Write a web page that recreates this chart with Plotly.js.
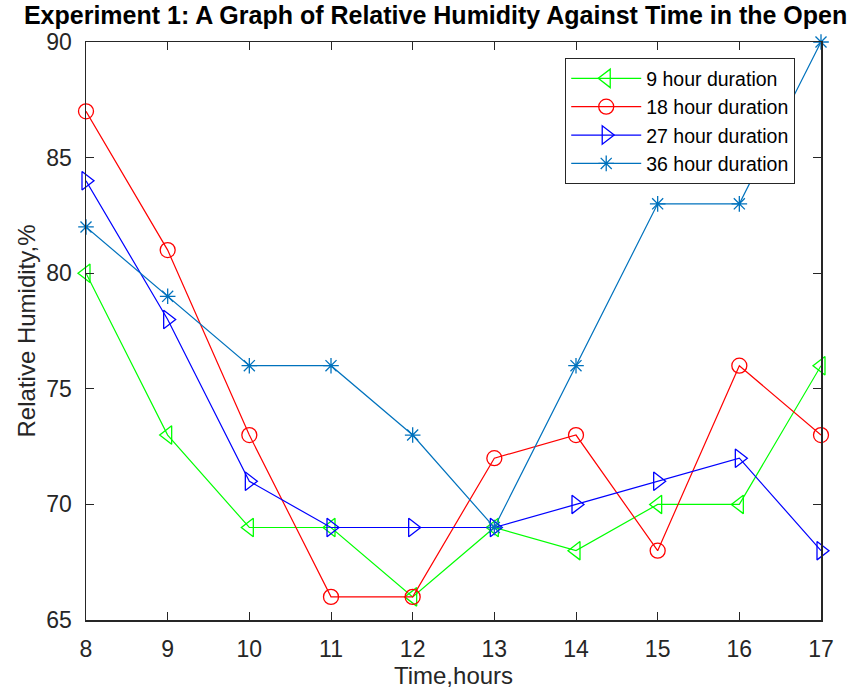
<!DOCTYPE html>
<html><head><meta charset="utf-8">
<script src="https://cdn.plot.ly/plotly-3.0.1.min.js"></script>
<style>html,body{margin:0;padding:0;background:#fff;}#chart{width:866px;height:692px;}</style>
</head><body><div id="chart"></div>
<script>
const hours = [8, 9, 10, 11, 12, 13, 14, 15, 16, 17];
const dur9 = [80, 73, 69, 69, 66, 69, 68, 70, 70, 76];
const dur18 = [87, 81, 73, 66, 66, 72, 73, 68, 76, 73];
const dur27 = [84, 78, 71, 69, 69, 69, 70, 71, 72, 68];
const dur36 = [82, 79, 76, 76, 73, 69, 76, 83, 83, 90];
const seriesNames = ['9 hour duration', '18 hour duration', '27 hour duration', '36 hour duration'];

function tr(y, name, color, symbol, size) {
  return {x: hours, y: y, name: name, type: 'scatter', mode: 'lines+markers',
    line: {color: color, width: 1.2},
    marker: {symbol: symbol, size: size, color: color, line: {color: color, width: 1.3}},
    cliponaxis: false};
}
const data = [
  tr(dur9, seriesNames[0], '#00FF00', 'triangle-left-open', 16),
  tr(dur18, seriesNames[1], '#FF0000', 'circle-open', 15),
  tr(dur27, seriesNames[2], '#0000FF', 'triangle-right-open', 16),
  tr(dur36, seriesNames[3], '#0072BD', 'asterisk-open', 13)
];
const font = {family: 'Liberation Sans, Arial, sans-serif', color: '#262626'};
const layout = {
  width: 866, height: 692,
  margin: {l: 86, r: 45, t: 42, b: 72},
  paper_bgcolor: '#fff', plot_bgcolor: '#fff',
  font: font,
  showlegend: true,
  title: {text: '<b>Experiment 1: A Graph of Relative Humidity Against Time in the Open</b>',
    font: {family: 'Liberation Sans, Arial, sans-serif', size: 25, color: '#000'},
    x: 0.503, xanchor: 'center', xref: 'container', y: 0.991, yanchor: 'top'},
  xaxis: {range: [8, 17], tickvals: hours, ticks: 'inside', ticklen: 8, tickcolor: '#262626',
    showgrid: false, zeroline: false, showline: true, linecolor: '#262626', linewidth: 1.5, mirror: 'ticks',
    tickfont: {size: 23, color: '#262626'}, ticklabelstandoff: 8,
    title: {text: 'Time,hours', font: {size: 24, color: '#262626'}, standoff: 4}},
  yaxis: {range: [65, 90], tickvals: [65, 70, 75, 80, 85, 90], ticks: 'inside', ticklen: 8, tickcolor: '#262626',
    showgrid: false, zeroline: false, showline: true, linecolor: '#262626', linewidth: 1.5, mirror: 'ticks',
    tickfont: {size: 23, color: '#262626'}, ticklabelstandoff: 8,
    title: {text: 'Relative Humidity,%', font: {size: 24, color: '#262626'}, standoff: 4}},
  legend: {x: 0.652, y: 0.972, xanchor: 'left', yanchor: 'top', bgcolor: '#fff',
    bordercolor: '#262626', borderwidth: 1, font: {size: 19.5, color: '#000'},
    tracegroupgap: 0, itemwidth: 70}
};
Plotly.newPlot('chart', data, layout, {displayModeBar: false, staticPlot: true});
</script></body></html>
